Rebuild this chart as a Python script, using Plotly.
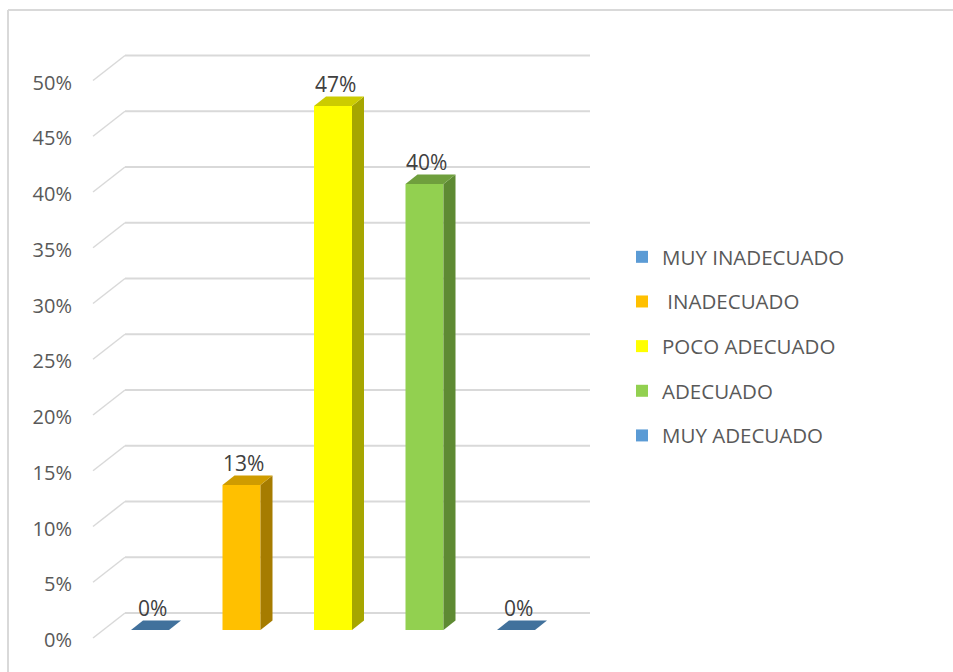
import plotly.graph_objects as go

# ---- data ----
categories = ["MUY INADECUADO", " INADECUADO", "POCO ADECUADO", "ADECUADO", "MUY ADECUADO"]
values = [0, 13, 47, 40, 0]
labels = ["0%", "13%", "47%", "40%", "0%"]
tick_values = [0, 5, 10, 15, 20, 25, 30, 35, 40, 45, 50]
tick_labels = ["0%", "5%", "10%", "15%", "20%", "25%", "30%", "35%", "40%", "45%", "50%"]

front_colors = ["#5b9bd5", "#ffc000", "#ffff00", "#92d050", "#5b9bd5"]
top_colors = ["#41719c", "#cf9c00", "#cccc00", "#6f9f3d", "#41719c"]
side_colors = ["#2f5b85", "#a67c00", "#a6a600", "#5e8a33", "#2f5b85"]

# ---- pixel geometry helpers ----
W, H = 953, 672
L, R, T, B = 85, 600, 45, 645
PXX = 91.5          # px per category
PXY = 11.15         # px per percent
C0 = 150            # px of first category centre
Y0 = 630            # px of value 0 (bar base)

x_range = [-(C0 - L) / PXX, (R - C0) / PXX]
y_range = [-(B - Y0) / PXY, (Y0 - T) / PXY]

BAR_W = 38 / PXX
DX = 12 / PXX       # bar depth offset
DY = 9.5 / PXY
BACK_DX = 32 / PXX  # wall depth
BACK_DY = 17 / PXY
FRONT_DY = -8 / PXY
FRONT_X = (93 - C0) / PXX
RIGHT_X = (590 - C0) / PXX

fig = go.Figure()

font = "Open Sans, Liberation Sans, Arial, sans-serif"
grid_col = "#d9d9d9"

# back wall + floor-edge gridlines
shapes = []
for v in tick_values:
    yf = v + FRONT_DY
    yb = v + BACK_DY
    shapes.append(dict(type="line", xref="x", yref="y", x0=FRONT_X, y0=yf,
                       x1=FRONT_X + BACK_DX, y1=yb, line=dict(color=grid_col, width=1.5), layer="below"))
    shapes.append(dict(type="line", xref="x", yref="y", x0=FRONT_X + BACK_DX, y0=yb,
                       x1=RIGHT_X, y1=yb, line=dict(color=grid_col, width=2), layer="below"))

# chart border (left and top)
px = lambda p: (p - L) / (R - L)
py = lambda p: (B - p) / (B - T)
shapes.append(dict(type="line", xref="paper", yref="paper", x0=px(8), y0=py(10), x1=px(8), y1=py(H + 5),
                   line=dict(color=grid_col, width=2)))
shapes.append(dict(type="line", xref="paper", yref="paper", x0=px(8), y0=py(10), x1=px(W + 5), y1=py(10),
                   line=dict(color=grid_col, width=2)))

# bars (front faces)
for i, (cat, v) in enumerate(zip(categories, values)):
    fig.add_trace(go.Bar(
        x=[i], y=[v], name=cat, width=BAR_W,
        marker=dict(color=front_colors[i], line=dict(width=0)),
        legendgroup=str(i), hoverinfo="skip",
    ))

# 3D faces
for i, v in enumerate(values):
    xl = i - BAR_W / 2
    xr = i + BAR_W / 2
    # side face
    if v > 0:
        fig.add_trace(go.Scatter(
            x=[xr, xr, xr + DX, xr + DX, xr], y=[0, v, v + DY, DY, 0],
            mode="lines", fill="toself", fillcolor=side_colors[i],
            line=dict(width=0, color=side_colors[i]), showlegend=False, hoverinfo="skip"))
    # top face
    fig.add_trace(go.Scatter(
        x=[xl, xr, xr + DX, xl + DX, xl], y=[v, v, v + DY, v + DY, v],
        mode="lines", fill="toself", fillcolor=top_colors[i],
        line=dict(width=0, color=top_colors[i]), showlegend=False, hoverinfo="skip"))

# data labels
annotations = []
for i, (v, lab) in enumerate(zip(values, labels)):
    annotations.append(dict(x=i + 2 / PXX, y=v, xref="x", yref="y", text=lab, showarrow=False,
                            yanchor="middle", yshift=22, font=dict(family=font, size=21, color="#404040")))

fig.update_layout(
    width=W, height=H,
    margin=dict(l=L, r=W - R, t=T, b=H - B),
    paper_bgcolor="white", plot_bgcolor="white",
    barmode="overlay",
    shapes=shapes,
    annotations=annotations,
    showlegend=True,
    legend=dict(x=px(622), y=py(237), xanchor="left", yanchor="top",
                traceorder="grouped", tracegroupgap=15,
                font=dict(family=font, size=20.5, color="#595959"),
                bgcolor="rgba(0,0,0,0)"),
    xaxis=dict(range=x_range, showgrid=False, zeroline=False, showticklabels=False,
               showline=False, fixedrange=True),
    yaxis=dict(range=y_range, showgrid=False, zeroline=False, showline=False,
               tickmode="array", tickvals=[v + FRONT_DY - 0.2 for v in tick_values],
               ticktext=tick_labels, ticks="", ticklabelstandoff=12,
               tickfont=dict(family=font, size=20, color="#595959"), fixedrange=True),
)

fig.write_html("out.html")
